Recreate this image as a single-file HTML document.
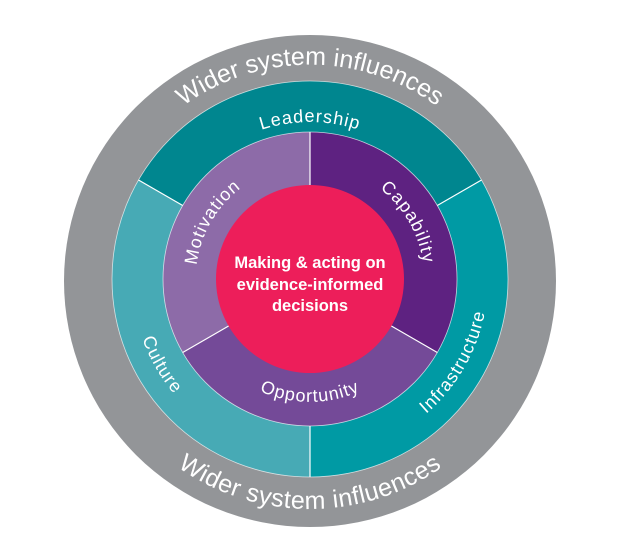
<!DOCTYPE html>
<html><head><meta charset="utf-8"><style>html,body{margin:0;padding:0;background:#fff}svg{display:block}</style></head>
<body>
<svg width="621" height="556" viewBox="0 0 621 556" xmlns="http://www.w3.org/2000/svg" font-family="Liberation Sans, sans-serif">
<defs>
<path id="pWtop" d="M -210.8 -37.2 A 214 214 0 0 1 210.8 -37.2"/>
<path id="pWbot" d="M -226.5 39.9 A 230 230 0 0 0 226.5 39.9"/>
<path id="pLead" d="M -154.6 -27.3 A 157 157 0 0 1 154.6 -27.3"/>
<path id="pIn" d="M -112.3 -19.8 A 114 114 0 0 1 112.3 -19.8"/>
<path id="pOpp" d="M -121.1 21.4 A 123 123 0 0 0 121.1 21.4"/>
<path id="pMid" d="M -175.3 30.9 A 178 178 0 0 0 175.3 30.9"/>
</defs>
<circle cx="310" cy="281" r="246" fill="#939598"/>
<g transform="translate(310,279)">
<path d="M0 0 L-171.5 -99 A198 198 0 0 1 171.5 -99 Z" fill="#00868f"/>
<path d="M0 0 L171.5 -99 A198 198 0 0 1 0 198 Z" fill="#009aa4"/>
<path d="M0 0 L0 198 A198 198 0 0 1 -171.5 -99 Z" fill="#47aab5"/>
<circle r="198" fill="none" stroke="#fff" stroke-width="0.8" opacity="0.7"/>
<path d="M0 0 L0 -147 A147 147 0 0 1 127.3 73.5 Z" fill="#5e2281"/>
<path d="M0 0 L127.3 73.5 A147 147 0 0 1 -127.3 73.5 Z" fill="#744a98"/>
<path d="M0 0 L-127.3 73.5 A147 147 0 0 1 0 -147 Z" fill="#8d6ba8"/>
<circle r="147" fill="none" stroke="#fff" stroke-width="0.8" opacity="0.7"/>
<circle r="94" fill="#ed1e5a"/>
<g stroke="#fff" stroke-width="1.2">
<line x1="-127.3" y1="-73.5" x2="-171.5" y2="-99"/>
<line x1="127.3" y1="-73.5" x2="171.5" y2="-99"/>
<line x1="0" y1="147" x2="0" y2="198"/>
<line x1="0" y1="-94" x2="0" y2="-147"/>
<line x1="81.4" y1="47" x2="127.3" y2="73.5"/>
<line x1="-81.4" y1="47" x2="-127.3" y2="73.5"/>
</g>
<g fill="#fff" text-anchor="middle">
<text font-size="25"><textPath href="#pWtop" startOffset="50%">Wider system influences</textPath></text>
<text font-size="25" letter-spacing="0.5"><textPath href="#pWbot" startOffset="50%">Wider system influences</textPath></text>
<g font-size="18" letter-spacing="1">
<text><textPath href="#pLead" startOffset="50%">Leadership</textPath></text>
<g transform="rotate(-60)"><text><textPath href="#pIn" startOffset="50%">Motivation</textPath></text></g>
<g transform="rotate(60)"><text><textPath href="#pIn" startOffset="50%">Capability</textPath></text></g>
<text><textPath href="#pOpp" startOffset="50%">Opportunity</textPath></text>
<g transform="rotate(60)"><text><textPath href="#pMid" startOffset="50%">Culture</textPath></text></g>
<g transform="rotate(-60)"><text><textPath href="#pMid" startOffset="50%">Infrastructure</textPath></text></g>
</g>
<g font-size="16.5" font-weight="bold">
<text x="0" y="-11">Making &amp; acting on</text>
<text x="0" y="11">evidence-informed</text>
<text x="0" y="32">decisions</text>
</g>
</g>
</g>
</svg>
</body></html>
